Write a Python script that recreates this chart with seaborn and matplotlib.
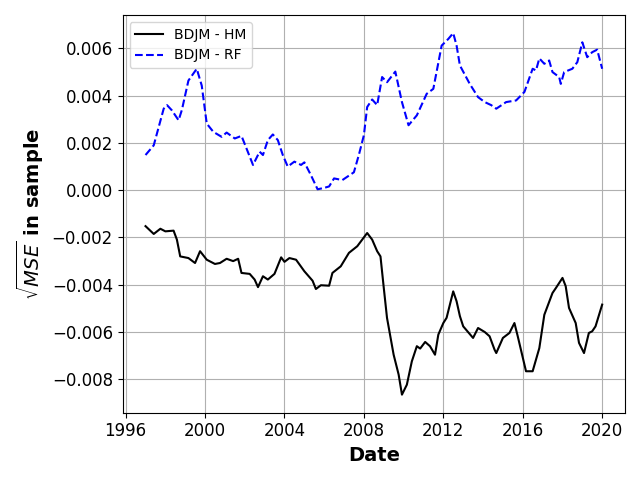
import pandas as pd
import matplotlib
matplotlib.use('Agg')
import matplotlib.pyplot as plt
import matplotlib.dates as mdates
import seaborn as sns

# BDJM - HM
hm_dates = ['1997-01', '1997-06', '1997-10', '1998-01', '1998-06', '1998-08', '1998-10',
            '1999-03', '1999-07', '1999-10', '2000-02', '2000-07', '2000-10', '2001-02',
            '2001-06', '2001-09', '2001-11', '2002-04', '2002-07', '2002-09', '2002-12',
            '2003-03', '2003-07', '2003-11', '2004-01', '2004-04', '2004-08', '2005-01',
            '2005-06', '2005-08', '2005-11', '2006-04', '2006-06', '2006-11', '2007-04',
            '2007-09', '2008-03', '2008-06', '2008-09', '2008-11', '2009-01', '2009-03',
            '2009-07', '2009-10', '2009-12', '2010-03', '2010-06', '2010-09', '2010-11',
            '2011-02', '2011-05', '2011-08', '2011-10', '2012-01', '2012-03', '2012-07',
            '2012-09', '2012-11', '2013-01', '2013-07', '2013-10', '2014-02', '2014-05',
            '2014-08', '2014-09', '2015-01', '2015-05', '2015-08', '2015-10', '2016-03',
            '2016-07', '2016-11', '2017-02', '2017-07', '2017-09', '2018-01', '2018-03',
            '2018-05', '2018-09', '2018-11', '2019-02', '2019-05', '2019-07', '2019-09',
            '2020-01']
hm_values = [-0.00152, -0.00185, -0.00163, -0.00174, -0.00171, -0.00209, -0.00280,
             -0.00287, -0.00308, -0.00258, -0.00294, -0.00312, -0.00308, -0.00290,
             -0.00300, -0.00290, -0.00350, -0.00354, -0.00378, -0.00410, -0.00364,
             -0.00378, -0.00354, -0.00284, -0.00303, -0.00287, -0.00294, -0.00343,
             -0.00383, -0.00418, -0.00402, -0.00404, -0.00350, -0.00322, -0.00265,
             -0.00237, -0.00181, -0.00209, -0.00258, -0.00280, -0.00414, -0.00540,
             -0.00696, -0.00780, -0.00865, -0.00823, -0.00724, -0.00660, -0.00670,
             -0.00642, -0.00660, -0.00696, -0.00611, -0.00562, -0.00540, -0.00428,
             -0.00470, -0.00533, -0.00576, -0.00625, -0.00583, -0.00600, -0.00618,
             -0.00675, -0.00689, -0.00625, -0.00604, -0.00562, -0.00618, -0.00766,
             -0.00766, -0.00668, -0.00527, -0.00435, -0.00414, -0.00371, -0.00406,
             -0.00498, -0.00562, -0.00646, -0.00689, -0.00604, -0.00597, -0.00576,
             -0.00484]

# BDJM - RF
rf_dates = ['1997-01', '1997-06', '1997-12', '1998-02', '1998-05', '1998-09', '1998-11',
            '1999-03', '1999-08', '1999-11', '2000-02', '2000-06', '2000-11', '2001-02',
            '2001-07', '2001-11', '2002-02', '2002-06', '2002-10', '2002-12', '2003-03',
            '2003-06', '2003-09', '2003-12', '2004-03', '2004-07', '2004-11', '2005-01',
            '2005-05', '2005-09', '2006-01', '2006-04', '2006-07', '2006-12', '2007-07',
            '2007-10', '2008-01', '2008-03', '2008-06', '2008-09', '2008-12', '2009-03',
            '2009-08', '2009-12', '2010-04', '2010-09', '2011-03', '2011-07', '2011-12',
            '2012-04', '2012-07', '2012-09', '2012-11', '2013-05', '2013-10', '2014-02',
            '2014-06', '2014-09', '2015-03', '2015-09', '2016-02', '2016-07', '2016-09',
            '2016-11', '2017-02', '2017-05', '2017-07', '2017-11', '2017-12', '2018-02',
            '2018-07', '2018-10', '2019-01', '2019-04', '2019-07', '2019-10', '2020-01']
rf_values = [0.00149, 0.00190, 0.00345, 0.00360, 0.00338, 0.00296, 0.00340,
             0.00464, 0.00514, 0.00443, 0.00282, 0.00247, 0.00226, 0.00244,
             0.00219, 0.00230, 0.00177, 0.00107, 0.00163, 0.00149, 0.00212,
             0.00236, 0.00212, 0.00149, 0.00100, 0.00121, 0.00107, 0.00118,
             0.00064, 0.00004, 0.00010, 0.00016, 0.00050, 0.00043, 0.00076,
             0.00150, 0.00233, 0.00352, 0.00384, 0.00360, 0.00479, 0.00457,
             0.00502, 0.00373, 0.00275, 0.00317, 0.00408, 0.00429, 0.00612,
             0.00640, 0.00665, 0.00612, 0.00528, 0.00450, 0.00394, 0.00373,
             0.00360, 0.00345, 0.00373, 0.00380, 0.00416, 0.00514, 0.00507,
             0.00558, 0.00535, 0.00549, 0.00500, 0.00479, 0.00450, 0.00500,
             0.00514, 0.00542, 0.00626, 0.00563, 0.00584, 0.00595, 0.00514]

df_hm = pd.DataFrame({'Date': pd.to_datetime(hm_dates), 'value': hm_values})
df_rf = pd.DataFrame({'Date': pd.to_datetime(rf_dates), 'value': rf_values})

fig, ax = plt.subplots(figsize=(6.4, 4.8), dpi=100)
sns.lineplot(data=df_hm, x='Date', y='value', ax=ax, color='black', linewidth=1.5,
             label='BDJM - HM')
sns.lineplot(data=df_rf, x='Date', y='value', ax=ax, color='blue', linewidth=1.5,
             linestyle='--', label='BDJM - RF')

ax.xaxis.set_major_locator(mdates.YearLocator(4))
ax.xaxis.set_major_formatter(mdates.DateFormatter('%Y'))
ax.tick_params(labelsize=12)
ax.grid(True)
ax.set_xlabel('Date', fontsize=14, fontweight='bold')
ax.set_ylabel(r'$\sqrt{MSE}$ in sample', fontsize=14, fontweight='bold')
ax.legend(loc='upper left', fontsize=10)

plt.tight_layout()
plt.savefig('out.png', dpi=100)
plt.close()
